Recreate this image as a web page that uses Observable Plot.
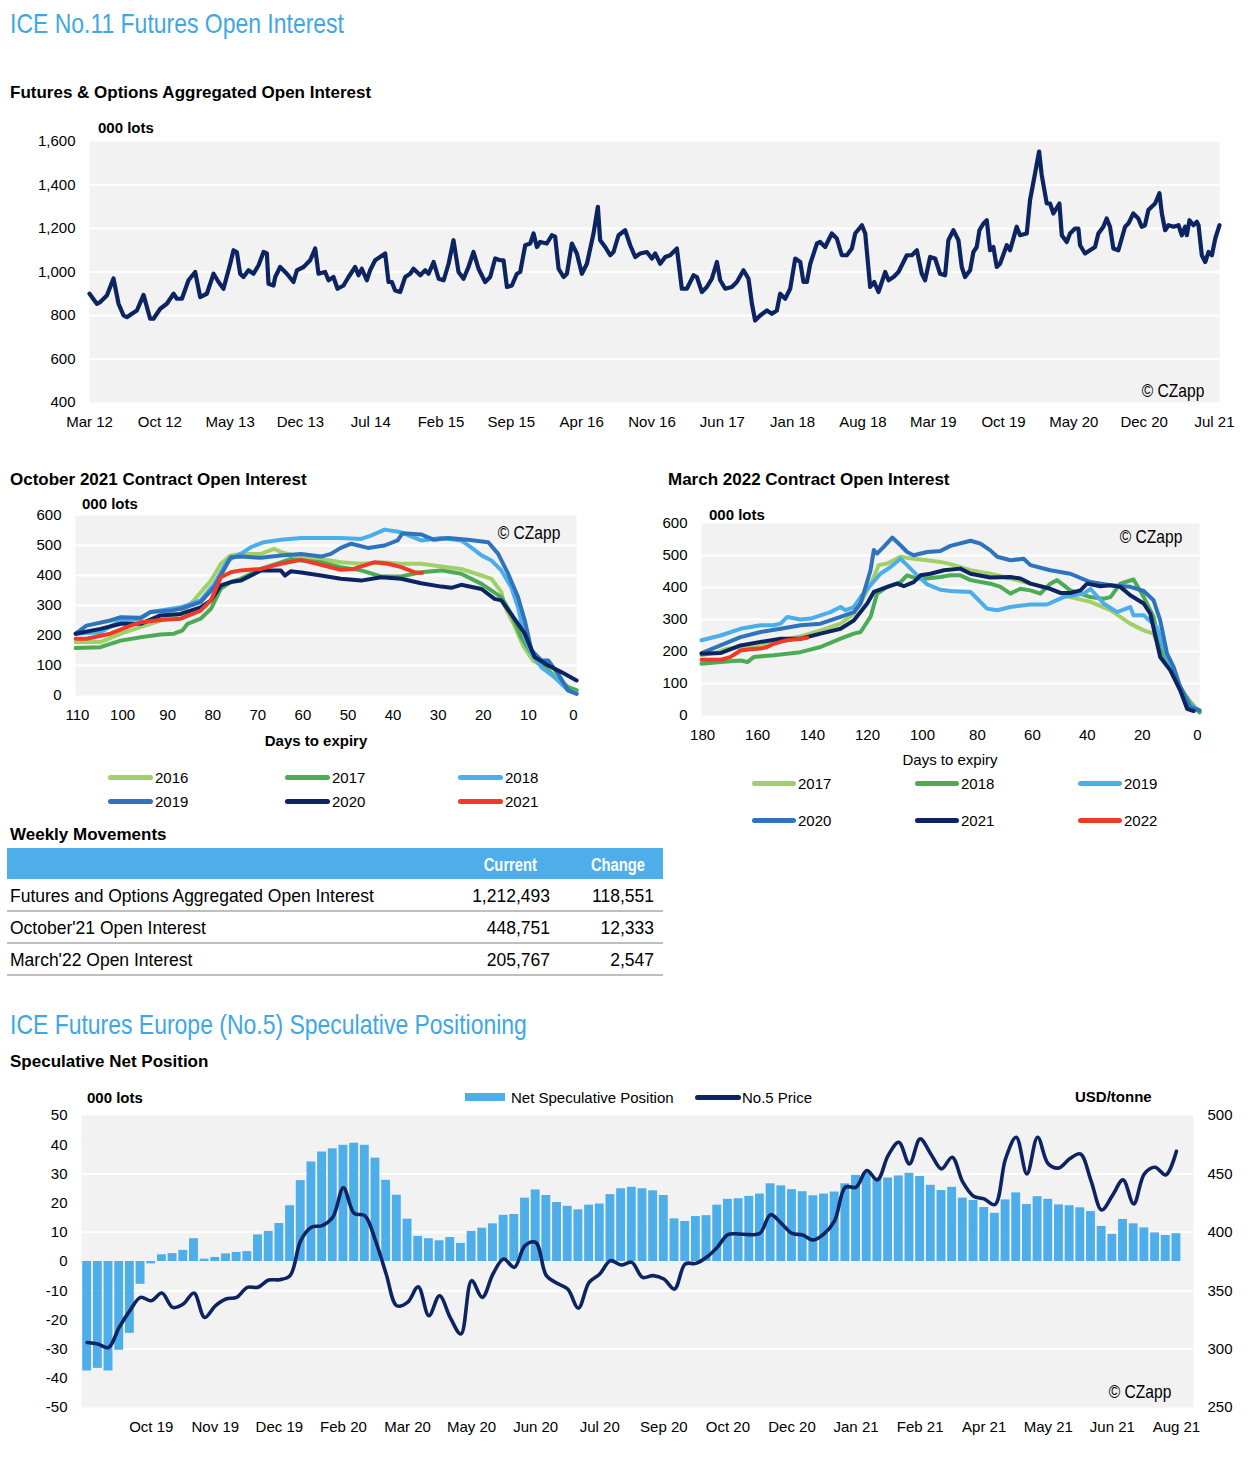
<!DOCTYPE html>
<html><head><meta charset="utf-8">
<script src="https://cdn.jsdelivr.net/npm/d3@7"></script>
<script src="https://cdn.jsdelivr.net/npm/@observablehq/plot@0.6"></script>
<style>
html,body{margin:0;padding:0;background:#fff;}
#root{position:relative;width:1252px;height:1462px;overflow:hidden;background:#fff;}
#root svg{overflow:visible;}
</style>
</head><body><div id="root"></div>
<script>
// ---------------- DATA ----------------
// Top: Futures & Options aggregated open interest (000 lots), x = months since Mar 2012
const topMonths = [0,0.73,1.07,1.73,2.39,2.89,3.39,3.72,4.22,4.72,5.38,6.04,6.37,7.04,7.7,8.37,8.7,9.2,9.86,10.52,11.02,11.68,12.35,12.85,13.34,14.01,14.34,14.67,15.0,15.33,15.83,16.33,16.83,17.33,17.66,17.82,18.32,18.49,18.98,19.65,20.31,20.65,21.31,21.97,22.47,22.8,23.46,23.8,24.29,24.69,25.29,25.79,26.45,26.78,27.11,27.61,27.94,28.44,29.44,29.77,30.1,30.43,
30.93,31.43,31.93,32.26,32.93,33.42,33.76,34.26,34.76,35.26,35.75,36.24,36.74,37.24,37.73,38.23,38.73,39.39,39.89,40.39,40.89,41.22,41.56,42.05,42.55,42.88,43.38,43.88,44.21,44.54,44.87,45.53,46.03,46.36,46.7,47.2,47.53,48.02,48.52,49.02,49.52,50.18,50.61,50.84,51.34,51.84,52.17,52.67,53.33,53.83,54.33,54.82,55.49,55.99,56.32,56.82,57.32,57.81,58.48,58.97,59.47,60.14,60.47,60.97,61.46,61.96,62.46,62.79,63.29,63.95,64.45,65.11,65.61,65.95,66.27,66.77,67.44,67.93,68.43,68.76,69.26,69.76,70.26,70.76,71.08,71.42,71.76,72.42,
72.74,73.24,73.9,74.4,74.9,75.4,75.9,76.23,76.9,77.23,77.72,78.12,78.55,79.22,79.55,80.05,80.54,81.37,81.87,82.37,82.86,83.19,83.69,84.19,84.68,85.18,85.51,86.01,86.51,86.84,87.17,87.67,88.0,88.33,88.6,89.0,89.33,89.66,89.99,90.32,90.65,91.32,91.65,92.31,92.64,93.31,93.64,94.14,94.54,94.8,95.3,95.63,95.96,96.56,96.8,97.29,97.62,98.12,98.45,98.62,99.11,99.61,100.11,100.44,100.94,101.27,101.6,101.93,102.43,103.1,103.43,103.92,104.42,104.75,105.08,105.42,105.75,106.09,106.52,106.76,107.09,107.42,107.92,108.42,108.75,109.08,109.25,109.51,109.91,110.25,110.41,110.74,111.08,111.41,111.74,112.08,112.5];
const topValues = [900,854,862,892,970,854,800,792,808,823,895,785,785,831,854,900,877,877,962,1000,885,900,992,954,923,1038,1100,1092,992,977,1008,992,1031,1092,1085,946,938,977,1023,992,954,1008,1023,1054,1108,992,1000,962,977,923,938,977,1023,985,1015,962,1008,1054,1085,954,954,915,
908,977,992,1015,985,1008,992,1046,969,962,1038,1146,1000,969,1023,1092,1015,954,977,1062,1054,1054,931,938,992,1000,1123,1131,1177,1115,1138,1131,1169,1162,1015,977,992,1131,1085,992,1038,1177,1300,1146,1115,1077,1092,1169,1192,1123,1069,1085,1092,1062,1085,1038,1069,1077,1108,923,923,985,977,908,931,969,1046,962,923,931,954,1008,969,854,777,800,823,808,823,900,877,923,1062,1046,954,954,1038,1131,
1138,1115,1177,1154,1077,1077,1108,1177,1215,1177,931,954,908,1000,962,977,1000,1077,1077,1100,992,962,1069,1062,992,985,1146,1192,1146,1023,977,1008,1092,1115,1192,1223,1238,1100,1115,1023,1038,1123,1100,1208,1169,1177,1331,1454,1554,1446,1315,1315,1269,1315,1169,1138,1177,1200,1200,1123,1085,1100,1115,1177,1208,1246,1208,1108,1100,1208,1223,1269,1246,1208,1215,1285,1300,1315,1362,1269,1192,1215,1208,1215,1169,1208,1169,1238,1215,1231,1215,1077,1046,1092,1077,1154,1215];
const topTickPos = [0,7,14,21,28,35,42,49,56,63,70,77,84,91,98,105,112];
const topTickLabels = ["Mar 12","Oct 12","May 13","Dec 13","Jul 14","Feb 15","Sep 15","Apr 16","Nov 16","Jun 17","Jan 18","Aug 18","Mar 19","Oct 19","May 20","Dec 20","Jul 21"];
const topYTicks = [400,600,800,1000,1200,1400,1600];

// October 2021 contract open interest (000 lots) by days to expiry
const oct2016Days = [110.4,104.9,100.4,96,91.6,87.1,84.2,80.4,78.2,76,73.8,69.3,66.4,64.9,60.4,56,51.6,47.1,42.7,38.2,33.8,29.3,24.9,20.4,18.2,16,15.3,13.3,11,9,6.3,3.5,1.2,-0.7];
const oct2016Vals = [178,178,206,228,250,272,317,383,439,467,472,472,489,478,461,455,444,439,444,439,439,430,422,400,389,345,300,239,161,117,94,61,28,17];
const oct2017Days = [110.4,104.9,102.7,100.4,96,91.6,88.6,86.7,85.6,82.7,80.4,78.2,76,73.8,69.3,64.9,62.7,60.4,56,51.6,47.1,42.7,38.2,33.8,29.3,24.9,20.4,16,13.8,11.6,9.3,7.1,4.2,1.2,-0.7];
const oct2017Vals = [158,161,172,183,194,203,206,217,239,256,289,356,378,389,422,444,455,450,444,428,417,397,397,411,417,406,372,328,272,194,139,106,61,28,17];
const oct2018Days = [110.4,104.9,100.4,96,93.8,91.6,87.1,82.7,79.7,76.7,73.8,71.6,68.7,64.9,60.4,56,51.6,47.1,44.9,41.9,38.2,33.8,29.3,24.9,22.7,20.4,18.2,16,13.8,12.3,10.8,9.3,7.1,4.2,1.2,-0.7];
const oct2018Vals = [206,211,250,256,278,283,294,317,372,450,472,494,511,519,525,525,525,522,533,553,544,517,525,517,494,467,450,417,361,294,194,139,94,61,17,8];
const oct2019Days = [110.4,108,102.7,100.4,96,93.8,89.3,87.1,82.7,79.7,76,73.8,69.3,64.9,60.4,56,53.8,51.6,49.3,45.6,41.9,39,37.9,33.8,30.9,27.8,23.4,18.9,16.7,14.5,12.3,10.8,9.3,7.1,5.6,3.4,1.2,-0.7];
const oct2019Vals = [206,233,250,261,259,278,283,289,311,361,461,463,459,467,472,463,472,492,506,492,500,517,541,537,519,525,519,511,472,406,328,250,150,117,117,72,17,5];
const oct2020Days = [110.4,104.9,100.4,96,91.6,87.1,82.7,80.4,78.2,76,73.8,69.3,64.9,64,62.7,60.4,56,51.6,47.1,42.7,38.2,33.8,29.3,27.1,24.9,20.4,17.5,16,13.1,10.8,8.6,5.6,2.7,-0.7];
const oct2020Vals = [206,222,239,239,267,272,294,317,367,378,383,417,417,400,414,410,400,389,383,394,389,374,363,359,369,355,322,317,256,206,128,100,78,50];
const oct2021Days = [110.4,108,102.7,98.2,96,91.6,87.1,82.7,80.4,78.2,76,73.8,69.3,64.9,60.4,56,51.6,48.8,44.2,41.2,38.2,35.3,33.6];
const oct2021Vals = [189,189,206,233,244,252,256,283,317,394,411,417,422,439,452,436,419,422,444,439,428,411,408];
const octTicks = [110,100,90,80,70,60,50,40,30,20,10,0];

// March 2022 contract open interest (000 lots) by days to expiry
const mar2017Days = [180.4,174.7,171,166.2,158.9,151.6,144.4,137.1,129.8,125,121.3,117.7,115.9,112.8,108,103.2,98.3,93.5,89.8,82.5,75.3,68,60.7,53.5,46.2,38.9,31.6,24.4,19.5,15.9,13.5,9.8,6.2,1.3,-0.8];
const mar2017Vals = [188,198,209,214,219,235,247,266,287,318,370,433,470,475,496,490,485,480,473,454,443,428,412,396,370,355,329,287,266,256,203,141,83,31,10];
const mar2018Days = [180.4,173.5,166.2,163.7,161.3,154.1,149.2,144.4,137.1,129.8,125,122.5,118.9,116.5,112.8,108,105.6,101.9,98.3,93.5,89.8,86.2,82.5,75.3,71.6,68,64.4,60.7,57.1,53.5,51,46.2,38.9,34.1,31.6,28,23.2,19.5,15.9,13.5,9.8,6.2,2.5,-0.8];
const mar2018Vals = [162,167,172,167,183,188,193,198,214,240,256,261,308,381,402,417,438,428,428,433,438,438,423,412,402,381,396,391,381,412,423,391,370,365,370,412,425,370,308,214,151,89,37,10];
const mar2019Days = [180.4,173.5,166.2,158.9,154.1,151.6,149.2,144.4,140.7,137.1,133.5,129.8,128,125,122.5,118.9,115.3,111.6,108,105.6,101.9,98.3,93.5,89.8,82.5,76.5,72.8,68,60.7,54.7,48.6,41.3,38.9,34.1,29.2,24.4,23.2,19.5,14.7,12.3,9.8,6.2,2.5,-0.8];
const mar2019Vals = [235,250,271,282,282,287,308,300,303,313,323,339,329,339,370,407,443,464,490,470,438,410,393,389,386,334,329,339,347,347,370,381,396,350,323,339,313,313,276,214,151,89,31,16];
const mar2020Days = [180.4,173.5,166.2,158.9,151.6,144.4,137.1,129.8,125,122.5,118.9,117.7,116.5,114.1,111,108,105.6,103.2,98.3,93.5,89.8,82.5,78.9,75.3,72.8,68,63.2,60.7,53.5,46.2,38.9,31.6,24.4,19.5,15.9,13.5,11,8.6,6.2,2.5,-0.8];
const mar2020Vals = [195,219,245,261,271,282,287,308,323,350,454,517,506,527,556,532,511,501,511,514,530,546,537,516,496,485,490,470,454,443,417,407,402,389,360,297,193,151,89,26,16];
const mar2021Days = [180.4,173.5,166.2,158.9,151.6,144.4,137.1,129.8,125,120.1,117.7,112.8,109.2,106.8,103.2,100.7,97.1,92.2,86.2,82.5,75.3,68,64.4,60.7,53.5,49.8,46.2,42.5,40.1,35.3,31.6,28,24.4,19.5,17.1,13.5,9.8,6.2,3.7,1.3];
const mar2021Vals = [193,195,219,230,240,240,256,271,297,350,386,402,412,404,417,438,443,454,459,443,431,433,428,412,396,383,383,391,412,404,407,402,376,350,318,183,141,78,21,14];
const mar2022Days = [180.4,173.5,169.8,166.2,162.5,158.9,156.5,154.1,151.6,149.2,144.4,141.9];
const mar2022Vals = [174,174,183,203,207,209,214,224,230,235,240,243];
const marTicks = [180,160,140,120,100,80,60,40,20,0];

// Weekly movements table
const tableLabels = ["Futures and Options Aggregated Open Interest","October'21 Open Interest","March'22 Open Interest"];
const tableCurrent = ["1,212,493","448,751","205,767"];
const tableChange = ["118,551","12,333","2,547"];

// Speculative net position (000 lots, weekly) and No.5 price (USD/tonne)
const specNet = [-37.5,-36.6,-37.5,-30.4,-24.6,-7.8,-0.8,2.3,2.7,3.8,7.8,0.8,1.4,2.6,3.1,3.4,9.1,10.3,13,19.1,27.7,34.1,37.5,38.6,39.8,40.5,39.8,35.4,27.8,22.7,14.5,8.6,7.8,7.1,8.2,6.2,10.3,11.4,12.9,15.8,16.1,21.7,24.5,22.6,20.2,18.9,17.7,19.3,19.7,22.9,24.9,25.4,24.9,24.2,22.6,14.6,13.7,15.4,15.7,19.3,21.3,21.5,22.3,23.1,26.6,25.9,24.6,23.9,22.5,23.1,23.8,26.6,29.5,30.3,28.6,28.6,29.3,30.2,29.1,26.1,24.3,25.4,21.7,20.9,18.5,16.5,21.1,23.5,19.5,22.2,21.3,19.4,19.1,18.4,17.1,12,9.3,14.4,12.9,11.5,9.8,8.9,9.5];
const no5Price = [305.7,304.3,301.4,318.6,332.9,344.3,341.4,348,335.7,338.6,348,327.1,337.1,342.9,344.3,352.9,352.9,359.1,359.4,362.9,392.9,404.3,405.7,412.9,438,416.3,414.3,392.9,364.3,337.1,340,353.4,328.6,345.7,327,312.9,358.6,344.3,364.3,377.1,370,388.6,391.4,362.9,356.3,351.4,335.1,357.1,364.3,375.7,372,374.3,361.4,362.9,360,351.4,372.9,373.4,378.6,387.1,398,398.6,398,399.1,415.1,407.7,399.1,397.7,393.4,398.6,410,438.6,438.6,452.9,444.9,465.7,477.1,458.6,480,467.1,454.3,464.3,442.9,430.9,428.6,423.7,462.9,481.4,450,481.4,458.6,455.1,462.9,467.1,444.3,419.1,431.4,444.9,424.3,450,455.7,449.1,469.4];
const specTickPos = [6,12,18,24,30,36,42,48,54,60,66,72,78,84,90,96,102];
const specTickLabels = ["Oct 19","Nov 19","Dec 19","Feb 20","Mar 20","May 20","Jun 20","Jul 20","Sep 20","Oct 20","Dec 20","Jan 21","Feb 21","Apr 21","May 21","Jun 21","Aug 21"];
const specLeftTicks = [-50,-40,-30,-20,-10,0,10,20,30,40,50];
const priceTicks = [250,300,350,400,450,500];

// ---------------- STYLE ----------------
const SANS = '"Liberation Sans", Arial, Helvetica, sans-serif';
const C = {
  navy: "#0C2461", lgreen: "#A3CF69", green: "#4DAA55", lblue: "#4BAEEA",
  mblue: "#2F73BD", red: "#EE3A26", bar: "#4DAEEA", title: "#3EA7E4", bg: "#F2F2F2"
};
const root = document.getElementById("root");
const plotStyle = {fontSize: "15px", fontFamily: SANS, color: "#000", background: "transparent", overflow: "visible"};

function label(text, x, cy, o = {}) {
  const size = o.size || 15;
  const d = document.createElement("div");
  d.textContent = text;
  Object.assign(d.style, {
    position: "absolute", whiteSpace: "nowrap", fontSize: size + "px", lineHeight: size + "px",
    fontFamily: SANS, fontWeight: o.bold ? "bold" : "normal",
    color: o.color || "#000", top: (cy - size * 0.5) + "px"
  });
  const sx = o.narrow ? " scaleX(0.82)" : "";
  if (o.align === "right") {
    d.style.right = (1252 - x) + "px";
    d.style.transformOrigin = "right center";
    if (sx) d.style.transform = sx.trim();
  } else if (o.align === "center") {
    d.style.left = x + "px";
    d.style.transform = "translateX(-50%)" + sx;
  } else {
    d.style.left = x + "px";
    d.style.transformOrigin = "left center";
    if (sx) d.style.transform = sx.trim();
  }
  root.appendChild(d);
}
function box(x, y, w, h, color, radius) {
  const d = document.createElement("div");
  Object.assign(d.style, {position: "absolute", left: x + "px", top: y + "px", width: w + "px", height: h + "px", background: color, borderRadius: (radius || 0) + "px"});
  root.appendChild(d);
}
function mount(svg, x, y) {
  const w = document.createElement("div");
  Object.assign(w.style, {position: "absolute", left: x + "px", top: y + "px"});
  w.appendChild(svg);
  root.appendChild(w);
}
function swatch(x, cy, len, color) { box(x, cy - 2.5, len, 5, color, 2.5); }

// ---------------- HEADINGS ----------------
label("ICE No.11 Futures Open Interest", 10, 24, {size: 28, narrow: true, color: C.title});
label("Futures & Options Aggregated Open Interest", 10, 92, {size: 17, bold: true});
label("000 lots", 98, 127, {bold: true});

// ---------------- TOP CHART ----------------
const topData = topMonths.map((m, i) => ({m, v: topValues[i]}));
mount(Plot.plot({
  width: 1252, height: 322, marginLeft: 89, marginRight: 33, marginTop: 31, marginBottom: 30,
  style: plotStyle,
  x: {domain: [0, 112.5], label: null},
  y: {domain: [400, 1600], label: null},
  marks: [
    Plot.frame({fill: C.bg, stroke: "none"}),
    Plot.gridY(topYTicks.slice(1, -1), {stroke: "#fff", strokeOpacity: 1, strokeWidth: 2}),
    Plot.line(topData, {x: "m", y: "v", stroke: C.navy, strokeWidth: 4.2, strokeLinejoin: "round"}),
    Plot.axisX({ticks: topTickPos, tickFormat: d => topTickLabels[topTickPos.indexOf(d)], tickSize: 0, tickPadding: 14, label: null}),
    Plot.axisY({ticks: topYTicks, tickFormat: d3.format(","), tickSize: 0, tickPadding: 14, label: null})
  ]
}), 0, 110);
label("© CZapp", 1204, 390, {size: 19, narrow: true, align: "right"});

// ---------------- OCTOBER CHART ----------------
label("October 2021 Contract Open Interest", 10, 479, {size: 17, bold: true});
label("000 lots", 82, 503, {bold: true});
const octSeries = [
  [oct2016Days, oct2016Vals, C.lgreen], [oct2017Days, oct2017Vals, C.green], [oct2018Days, oct2018Vals, C.lblue],
  [oct2019Days, oct2019Vals, C.mblue], [oct2020Days, oct2020Vals, C.navy], [oct2021Days, oct2021Vals, C.red]
];
mount(Plot.plot({
  width: 640, height: 250, marginLeft: 75, marginRight: 64, marginTop: 25, marginBottom: 45,
  style: plotStyle,
  x: {domain: [110.44, -0.67], label: null},
  y: {domain: [0, 600], label: null},
  marks: [
    Plot.frame({fill: C.bg, stroke: "none"}),
    Plot.gridY([100, 200, 300, 400, 500], {stroke: "#fff", strokeOpacity: 1, strokeWidth: 2}),
    ...octSeries.map(([ds, vs, col]) => Plot.line(ds.map((d, i) => ({d, v: vs[i]})), {x: "d", y: "v", stroke: col, strokeWidth: 4, strokeLinejoin: "round", strokeLinecap: "round"})),
    Plot.axisX({ticks: octTicks, tickSize: 0, tickPadding: 14, label: null}),
    Plot.axisY({ticks: [0, 100, 200, 300, 400, 500, 600], tickSize: 0, tickPadding: 14, label: null})
  ]
}), 0, 490);
label("© CZapp", 560, 532, {size: 19, narrow: true, align: "right"});
label("Days to expiry", 316, 740, {bold: true, align: "center"});
const octLegend = ["2016", "2017", "2018", "2019", "2020", "2021"];
const octLegX = [108, 285, 458];
octLegend.forEach((t, i) => {
  const x = octLegX[i % 3], cy = i < 3 ? 777 : 801;
  swatch(x, cy, 45, octSeries[i][2]);
  label(t, x + 47, cy);
});

// ---------------- MARCH CHART ----------------
label("March 2022 Contract Open Interest", 668, 479, {size: 17, bold: true});
label("000 lots", 709, 514, {bold: true});
const marSeries = [
  [mar2017Days, mar2017Vals, C.lgreen], [mar2018Days, mar2018Vals, C.green], [mar2019Days, mar2019Vals, C.lblue],
  [mar2020Days, mar2020Vals, C.mblue], [mar2021Days, mar2021Vals, C.navy], [mar2022Days, mar2022Vals, C.red]
];
mount(Plot.plot({
  width: 612, height: 260, marginLeft: 61, marginRight: 53, marginTop: 23, marginBottom: 45,
  style: plotStyle,
  x: {domain: [180.4, -0.8], label: null},
  y: {domain: [0, 600], label: null},
  marks: [
    Plot.frame({fill: C.bg, stroke: "none"}),
    Plot.gridY([100, 200, 300, 400, 500], {stroke: "#fff", strokeOpacity: 1, strokeWidth: 2}),
    ...marSeries.map(([ds, vs, col]) => Plot.line(ds.map((d, i) => ({d, v: vs[i]})), {x: "d", y: "v", stroke: col, strokeWidth: 4, strokeLinejoin: "round", strokeLinecap: "round"})),
    Plot.axisX({ticks: marTicks, tickSize: 0, tickPadding: 14, label: null}),
    Plot.axisY({ticks: [0, 100, 200, 300, 400, 500, 600], tickSize: 0, tickPadding: 14, label: null})
  ]
}), 640, 500);
label("© CZapp", 1182, 536, {size: 19, narrow: true, align: "right"});
label("Days to expiry", 950, 759, {align: "center"});
const marLegend = ["2017", "2018", "2019", "2020", "2021", "2022"];
const marLegX = [752, 915, 1078];
marLegend.forEach((t, i) => {
  const x = marLegX[i % 3], cy = i < 3 ? 783 : 820;
  swatch(x, cy, 44, marSeries[i][2]);
  label(t, x + 46, cy);
});

// ---------------- TABLE ----------------
label("Weekly Movements", 10, 834, {size: 17, bold: true});
box(7, 848, 656, 31, C.bar);
label("Current", 537, 865, {size: 18, bold: true, narrow: true, color: "#fff", align: "right"});
label("Change", 645, 865, {size: 18, bold: true, narrow: true, color: "#fff", align: "right"});
tableLabels.forEach((t, i) => {
  const cy = 897 + i * 32;
  label(t, 10, cy, {size: 17.5});
  label(tableCurrent[i], 550, cy, {size: 17.5, align: "right"});
  label(tableChange[i], 654, cy, {size: 17.5, align: "right"});
  box(7, cy + 13, 656, 2, "#BFBFBF");
});

// ---------------- SPECULATIVE POSITIONING ----------------
label("ICE Futures Europe (No.5) Speculative Positioning", 10, 1025, {size: 28, narrow: true, color: C.title});
label("Speculative Net Position", 10, 1061, {size: 17, bold: true});
label("000 lots", 87, 1097, {bold: true});
label("USD/tonne", 1075, 1096, {bold: true});
box(465, 1093, 40, 8, C.bar);
label("Net Speculative Position", 511, 1097);
swatch(695, 1097, 46, C.navy);
label("No.5 Price", 742, 1097);

const specData = specNet.map((v, i) => ({i, v}));
const priceData = no5Price.map((p, i) => ({i, p}));
const toLeft = p => (p - 375) / 2.5;   // secondary axis: 250..500 onto -50..50
mount(Plot.plot({
  width: 1252, height: 357, marginLeft: 81, marginRight: 59, marginTop: 30, marginBottom: 35,
  style: plotStyle,
  x: {domain: [-0.53, 103.6], label: null},
  y: {domain: [-50, 50], label: null},
  marks: [
    Plot.frame({fill: C.bg, stroke: "none"}),
    Plot.gridY(priceTicks.slice(1, -1).map(toLeft), {stroke: "#fff", strokeOpacity: 1, strokeWidth: 2}),
    Plot.rectY(specData, {x1: d => d.i - 0.5, x2: d => d.i + 0.5, y: "v", fill: C.bar, insetLeft: 0.9, insetRight: 0.9}),
    Plot.line(priceData, {x: "i", y: d => toLeft(d.p), stroke: C.navy, strokeWidth: 3.6, curve: "catmull-rom", strokeLinejoin: "round"}),
    Plot.axisX({ticks: specTickPos, tickFormat: d => specTickLabels[specTickPos.indexOf(d)], tickSize: 0, tickPadding: 14, label: null}),
    Plot.axisY({ticks: specLeftTicks, tickFormat: d => String(d), tickSize: 0, tickPadding: 14, label: null}),
    Plot.axisY({anchor: "right", ticks: priceTicks.map(toLeft), tickFormat: d => String(Math.round(d * 2.5 + 375)), tickSize: 0, tickPadding: 14, label: null})
  ]
}), 0, 1085);
label("© CZapp", 1171, 1391, {size: 19, narrow: true, align: "right"});
</script>
</body></html>
